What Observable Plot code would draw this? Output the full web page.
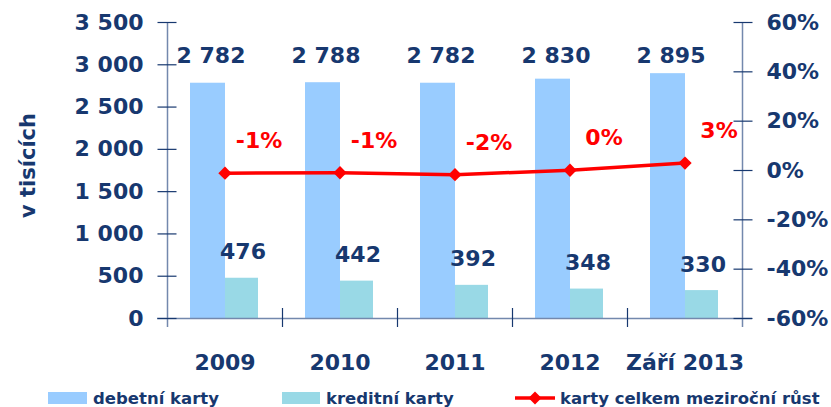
<!DOCTYPE html>
<html><head><meta charset="utf-8">
<script src="https://cdn.jsdelivr.net/npm/d3@7"></script>
<script src="https://cdn.jsdelivr.net/npm/@observablehq/plot@0.6"></script>
<style>
body{margin:0;background:#fff;font-family:"DejaVu Sans",sans-serif;}
#wrap{position:relative;width:831px;height:407px;overflow:hidden;}
#legend{position:absolute;left:0;top:375px;width:831px;height:32px;font-weight:bold;font-size:16.5px;color:#17386F;}
.item{position:absolute;top:10px;height:26px;display:flex;align-items:center;white-space:nowrap;}
.sw{display:inline-block;height:12px;margin-right:6px;}
</style>
</head><body>
<div id="wrap"><div id="chart"></div><div id="legend"></div></div>
<script>
const years = ["2009", "2010", "2011", "2012", "Září 2013"];
const debit = [2782, 2788, 2782, 2830, 2895];
const credit = [476, 442, 392, 348, 330];
const growth = [-1.1, -0.9, -1.7, 0.1, 3.0];
const growthLabels = ["-1%", "-1%", "-2%", "0%", "3%"];
const leftTicks = [0, 500, 1000, 1500, 2000, 2500, 3000, 3500];
const rightTicks = [-60, -40, -20, 0, 20, 40, 60];
const seriesNames = ["debetní karty", "kreditní karty", "karty celkem meziroční růst"];
const colors = ["#99CCFF", "#99D9E6", "#FF0000"];

const navy = "#17386F";
const axisCol = "#7388AD";
const font = "DejaVu Sans";

// map right-axis percent onto the left scale domain
const yMax = 3500, pMin = -60, pMax = 60;
const pctToY = p => (p - pMin) / (pMax - pMin) * yMax;
const yToPct = v => v / yMax * (pMax - pMin) + pMin;

const rows = years.map((year, i) => ({year, debit: debit[i], credit: credit[i], growth: growth[i], glabel: growthLabels[i]}));
const fmt = d => d3.format(",")(d).replace(/,/g, " ");

const half = 57.5; // half band width in px
const chart = Plot.plot({
  width: 831, height: 375,
  marginLeft: 167, marginRight: 89, marginTop: 22, marginBottom: 57,
  style: {fontFamily: font, background: "white", overflow: "visible"},
  x: {type: "band", domain: years, padding: 0},
  y: {domain: [0, yMax]},
  marks: [
    Plot.barY(rows, {x: "year", y: "debit", fill: colors[0], insetLeft: 23, insetRight: 57}),
    Plot.barY(rows, {x: "year", y: "credit", fill: colors[1], insetLeft: 58, insetRight: 24}),
    // axis lines
    Plot.ruleY([0], {stroke: axisCol, strokeWidth: 1.5, insetLeft: -10, insetRight: -10}),
    Plot.ruleX([years[0]], {x: d => d, dx: -half, stroke: axisCol, strokeWidth: 1.5, insetBottom: -9}),
    Plot.ruleX([years[years.length - 1]], {x: d => d, dx: half, stroke: axisCol, strokeWidth: 1.5, insetBottom: -9}),
    Plot.ruleX(years.slice(0, -1), {x: d => d, dx: half, y1: 0, y2: 0, stroke: navy, strokeWidth: 1.2, insetTop: -10, insetBottom: -9}),
    // left axis
    Plot.axisY({ticks: leftTicks, tickSize: 19, dx: 9.5, tickFormat: () => "", stroke: navy, strokeWidth: 1.2}),
    Plot.axisY({ticks: leftTicks, tickSize: 0, tickPadding: 24, tickFormat: fmt, fontSize: 22, fontWeight: "bold", fill: navy, label: null}),
    // right axis
    Plot.axisY({anchor: "right", ticks: rightTicks.map(pctToY), tickSize: 19, dx: -9.5, tickFormat: () => "", stroke: navy, strokeWidth: 1.2, label: null}),
    Plot.axisY({anchor: "right", ticks: rightTicks.map(pctToY), tickSize: 0, tickPadding: 24, tickFormat: v => Math.round(yToPct(v)) + "%", fontSize: 22, fontWeight: "bold", fill: navy, label: null}),
    // x axis labels
    Plot.axisX({tickSize: 0, tickPadding: 36, fontSize: 22, fontWeight: "bold", fill: navy, label: null}),
    // y axis title
    Plot.text(["v tisících"], {frameAnchor: "left", textAnchor: "middle", dx: -139, dy: -5, rotate: -90, fontSize: 21, fontWeight: "bold", fill: navy}),
    // value labels
    Plot.text(rows, {x: "year", frameAnchor: "top", dy: 25, dx: -14, text: d => fmt(d.debit), fontSize: 22, fontWeight: "bold", fill: navy}),
    Plot.text(rows, {x: "year", y: "credit", dy: -26, dx: 18, text: d => fmt(d.credit), fontSize: 22, fontWeight: "bold", fill: navy}),
    // growth line
    Plot.line(rows, {x: "year", y: d => pctToY(d.growth), stroke: colors[2], strokeWidth: 3.5}),
    Plot.dot(rows, {x: "year", y: d => pctToY(d.growth), symbol: "diamond2", r: 6, fill: colors[2], stroke: null}),
    Plot.text(rows, {x: "year", y: d => pctToY(d.growth), dx: 34, dy: -32, text: "glabel", fontSize: 22, fontWeight: "bold", fill: colors[2]})
  ]
});
document.getElementById("chart").append(chart);

// legend
const legend = document.getElementById("legend");
const lefts = [48, 282, 515];
seriesNames.forEach((name, i) => {
  const item = document.createElement("div");
  item.className = "item";
  item.style.left = lefts[i] + "px";
  if (i < 2) {
    const sw = document.createElement("span");
    sw.className = "sw";
    sw.style.width = (i === 0 ? 39 : 38) + "px";
    sw.style.background = colors[i];
    item.append(sw);
  } else {
    const ns = "http://www.w3.org/2000/svg";
    const svg = document.createElementNS(ns, "svg");
    svg.setAttribute("width", 42); svg.setAttribute("height", 16);
    svg.style.marginRight = "3px";
    svg.innerHTML = `<line x1="0" x2="40" y1="8" y2="8" stroke="${colors[2]}" stroke-width="3.5"/><path d="M20,1.5L26.5,8L20,14.5L13.5,8Z" fill="${colors[2]}"/>`;
    item.append(svg);
  }
  const t = document.createElement("span");
  t.textContent = name;
  item.append(t);
  legend.append(item);
});
</script>
</body></html>
